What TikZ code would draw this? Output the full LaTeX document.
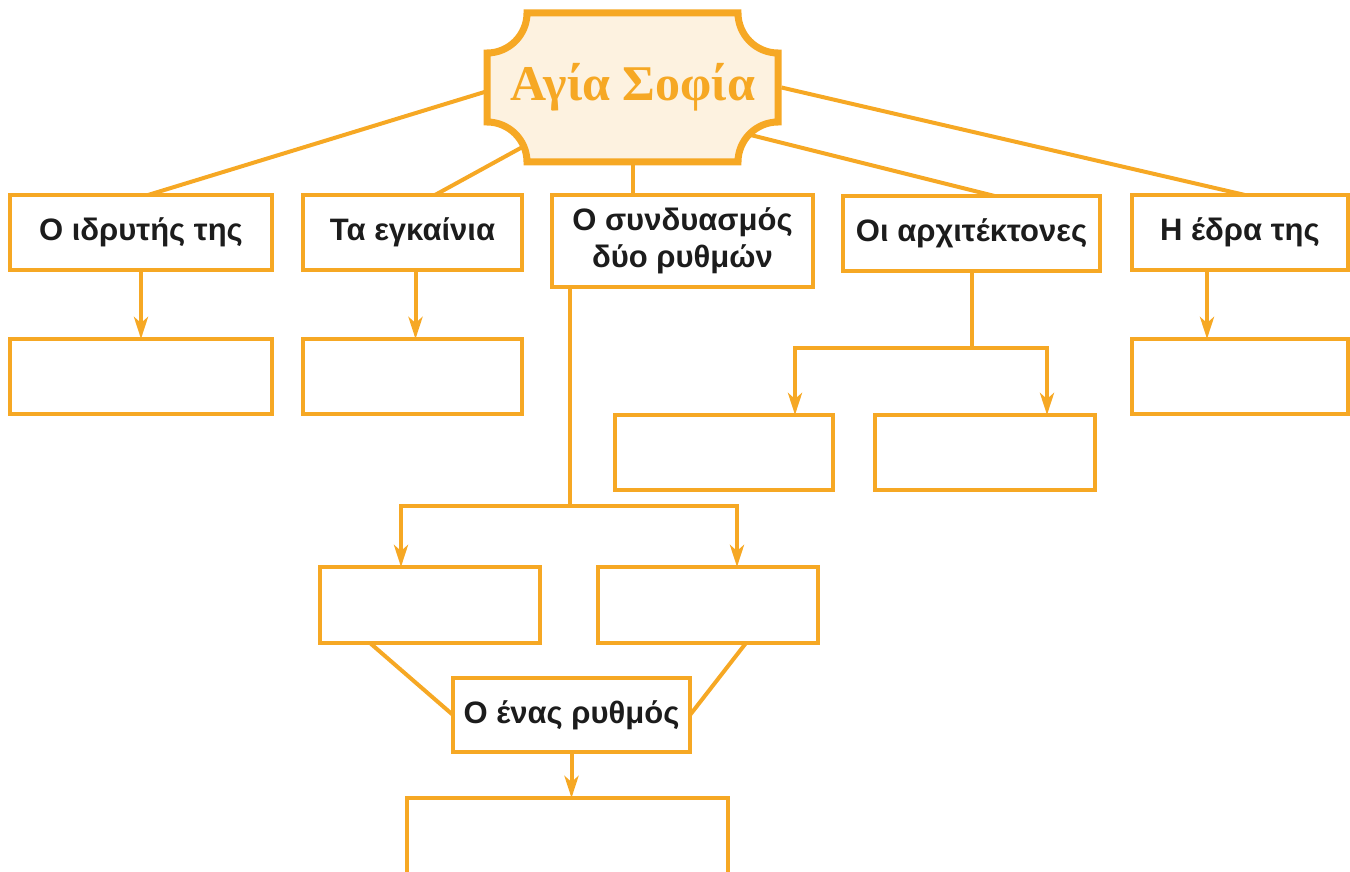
\documentclass[tikz,border=0pt]{standalone}
\usepackage{fontspec}
\setmainfont{Liberation Sans}
\newfontfamily\titlefont{Liberation Serif}
\usetikzlibrary{arrows.meta,calc}
\definecolor{org}{RGB}{246,168,36}
\definecolor{cream}{RGB}{253,242,224}
\definecolor{ink}{RGB}{28,28,28}
\begin{document}
\begin{tikzpicture}[x=1pt,y=-1pt,
  box/.style={draw=org,line width=4.5pt,fill=white,minimum height=75pt,inner sep=0pt,outer sep=0pt,align=center,text=ink,font=\bfseries\fontsize{31}{37}\selectfont},
  link/.style={draw=org,line width=4pt},
  arr/.style={link,-{Stealth[length=22pt,width=14pt,inset=6pt]}},
  titlebox/.style={fill=cream,draw=org,line width=7pt,line join=miter}]
\useasboundingbox (0,0) rectangle (1350,872);
\clip (0,0) rectangle (1350,872);

% title frame
\path[titlebox] (527,13) -- (738,13) .. controls (738,35) and (756,53) .. (778,53)
  -- (778,122) .. controls (756,122) and (738,140) .. (738,162)
  -- (527,162) .. controls (527,140) and (509,122) .. (487,122)
  -- (487,53) .. controls (509,53) and (527,35) .. (527,13) -- cycle;
\node[minimum width=291pt,minimum height=149pt,inner sep=0pt,outer sep=0pt,text=org,
  font=\titlefont\bfseries\fontsize{50}{60}\selectfont] (title) at (633,87.5) {Αγία Σοφία};

% level 1
\node[box,minimum width=262pt] (b1) at (141,232.5) {Ο ιδρυτής της};
\node[box,minimum width=219pt] (b2) at (412.5,232.5) {Τα εγκαίνια};
\node[box,minimum width=261pt,minimum height=92pt] (b3) at (682.5,241) {Ο συνδυασμός\\δύο ρυθμών};
\node[box,minimum width=257pt] (b4) at (971.5,233.5) {Οι αρχιτέκτονες};
\node[box,minimum width=216pt] (b5) at (1240,232.5) {Η έδρα της};

% level 2
\node[box,minimum width=262pt] (c1) at (141,376.5) {};
\node[box,minimum width=219pt] (c2) at (412.5,376.5) {};
\node[box,minimum width=216pt] (c5) at (1240,376.5) {};
\node[box,minimum width=218pt] (c4a) at (724,452.5) {};
\node[box,minimum width=220pt] (c4b) at (985,452.5) {};
\node[box,minimum width=220pt,minimum height=76pt] (c3a) at (430,605) {};
\node[box,minimum width=220pt,minimum height=76pt] (c3b) at (708,605) {};
\node[box,minimum width=237pt,minimum height=74pt] (ena) at (571.5,715) {Ο ένας ρυθμός};
\node[box,minimum width=321pt,minimum height=90pt] (bot) at (567.5,843) {};

% connectors from title
\draw[link] ($(title.west)+(-3,4.5)$) -- ($(b1.north)+(7,0)$);
\draw[link] ($(title.south west)+(35,-15)$) -- ($(b2.north)+(22.5,0)$);
\draw[link] ($(title.south)+(0,3)$) -- (title.south |- b3.north);
\draw[link] ($(title.south east)+(-28,-27)$) -- ($(b4.north)+(23,0)$);
\draw[link] ($(title.east)+(3,0)$) -- ($(b5.north)+(5,0)$);

% simple arrows
\draw[arr] (b1.south) -- (c1.north);
\draw[arr] ($(b2.south)+(3,0)$) -- ($(c2.north)+(3,0)$);
\draw[arr] ($(b5.south)+(-33,0)$) -- ($(c5.north)+(-33,0)$);

% architects
\coordinate (j4) at (971.5,348);
\draw[link] (b4.south) -- (j4);
\draw[arr] (j4) -| ($(c4a.north)+(71,0)$);
\draw[arr] (j4) -| ($(c4b.north)+(62,0)$);

% two styles
\coordinate (j3) at (570,506);
\draw[link] (j3 |- b3.south) -- (j3);
\draw[arr] (j3) -| ($(c3a.north)+(-29,0)$);
\draw[arr] (j3) -| ($(c3b.north)+(29,0)$);

% to the one style
\draw[link] ($(c3a.south)+(-60,0)$) -- (ena.west);
\draw[link] ($(c3b.south)+(38,0)$) -- (ena.east);
\draw[arr] (ena.south) -- (ena.south |- bot.north);
\end{tikzpicture}
\end{document}
